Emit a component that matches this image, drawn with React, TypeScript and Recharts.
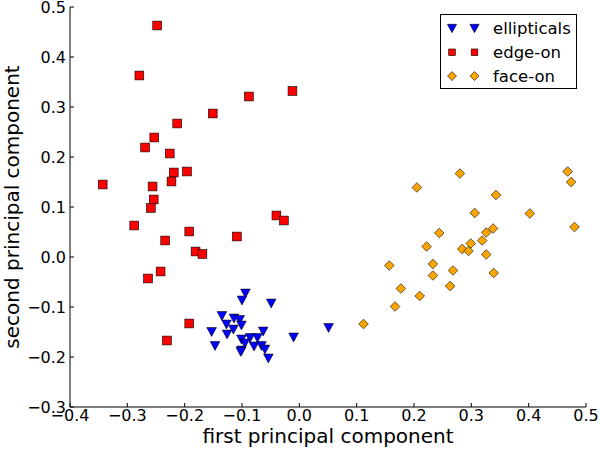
import React from "react"
import { ScatterChart, Scatter, XAxis, YAxis, Legend, Label } from "recharts"

// [first PC, second PC] pairs
const ellipticals: [number, number][] = [
  [-0.094, -0.073], [-0.1, -0.087], [-0.049, -0.093], [-0.135, -0.118], [-0.114, -0.123],
  [-0.104, -0.126], [-0.127, -0.135], [-0.101, -0.137], [-0.115, -0.145], [-0.153, -0.15],
  [-0.063, -0.149], [-0.126, -0.155], [0.051, -0.142], [-0.01, -0.161], [-0.147, -0.178],
  [-0.101, -0.165], [-0.086, -0.162], [-0.073, -0.162], [-0.095, -0.173], [-0.079, -0.179],
  [-0.066, -0.178], [-0.101, -0.187], [-0.102, -0.19], [-0.06, -0.185], [-0.054, -0.203],
]

const edgeOn: [number, number][] = [
  [-0.248, 0.463], [-0.279, 0.363], [-0.012, 0.332], [-0.088, 0.321], [-0.151, 0.287],
  [-0.213, 0.267], [-0.253, 0.239], [-0.269, 0.219], [-0.226, 0.207], [-0.219, 0.169],
  [-0.196, 0.171], [-0.223, 0.151], [-0.343, 0.145], [-0.256, 0.141], [-0.254, 0.115],
  [-0.259, 0.098], [-0.288, 0.063], [-0.192, 0.051], [-0.109, 0.041], [-0.04, 0.083],
  [-0.027, 0.073], [-0.234, 0.033], [-0.181, 0.011], [-0.169, 0.006], [-0.242, -0.029],
  [-0.264, -0.043], [-0.192, -0.133], [-0.231, -0.167],
]

const faceOn: [number, number][] = [
  [0.205, 0.139], [0.28, 0.167], [0.343, 0.124], [0.468, 0.171], [0.474, 0.15],
  [0.306, 0.088], [0.402, 0.087], [0.48, 0.06], [0.338, 0.057], [0.326, 0.049],
  [0.244, 0.048], [0.319, 0.033], [0.299, 0.027], [0.222, 0.021], [0.284, 0.016],
  [0.295, 0.012], [0.326, 0.005], [0.157, -0.017], [0.233, -0.014], [0.268, -0.027],
  [0.339, -0.032], [0.233, -0.037], [0.263, -0.058], [0.177, -0.063], [0.21, -0.078],
  [0.167, -0.099], [0.112, -0.134],
]

const seriesNames = ["ellipticals", "edge-on", "face-on"]
const xTicks = [-0.4, -0.3, -0.2, -0.1, 0.0, 0.1, 0.2, 0.3, 0.4, 0.5]
const yTicks = [-0.3, -0.2, -0.1, 0.0, 0.1, 0.2, 0.3, 0.4, 0.5]

const toPoints = (arr: [number, number][]) => arr.map(([x, y]) => ({ x, y }))
const fmt = (v: number) => (v < 0 ? "\u2212" : "") + Math.abs(v).toFixed(1)

const FONT = "DejaVu Sans"

function marker(kind: string, cx: number, cy: number, legend = false) {
  if (kind === "ellipticals") {
    const w = legend ? 4.6 : 4.8, h = legend ? 4.2 : 4.4
    return (
      <polygon
        points={`${cx - w},${cy - h} ${cx + w},${cy - h} ${cx},${cy + h}`}
        fill="#0000ff" stroke="#000" strokeWidth={0.6}
      />
    )
  }
  if (kind === "edge-on") {
    const h = legend ? 3.3 : 4.4
    return <rect x={cx - h} y={cy - h} width={2 * h} height={2 * h} fill="#ff0000" stroke="#000" strokeWidth={0.6} />
  }
  const d = legend ? 4.5 : 4.8
  return (
    <polygon
      points={`${cx},${cy - d} ${cx + d},${cy} ${cx},${cy + d} ${cx - d},${cy}`}
      fill="#ffa500" stroke="#000" strokeWidth={0.6}
    />
  )
}

const shapeFor = (kind: string) => (props: any) => marker(kind, props.cx, props.cy)

const LegendBox = (props: any) => {
  const items = [...(props.payload || [])].sort(
    (a: any, b: any) => seriesNames.indexOf(a.value) - seriesNames.indexOf(b.value)
  )
  return (
    <svg width={137} height={75}>
      <rect x={0.5} y={0.5} width={136} height={74} fill="#fff" stroke="#000" strokeWidth={1} />
      {items.map((it: any, i: number) => {
        const cy = 14.5 + i * 23.8
        return (
          <g key={it.value}>
            {marker(it.value, 12, cy, true)}
            {marker(it.value, 34.5, cy, true)}
            <text x={53} y={cy} dominantBaseline="central" fontFamily={FONT} fontSize={16.5} fill="#000">
              {it.value}
            </text>
          </g>
        )
      })}
    </svg>
  )
}

const tickStyle = { fill: "#000", fontSize: 16, fontFamily: FONT }

export default function App() {
  return (
    <div style={{ width: 600, height: 451 }}>
      <style>{`body{margin:0}`}</style>
      <ScatterChart width={600} height={451} margin={{ top: 7, right: 14, bottom: 0, left: 0 }}>
        <XAxis
          xAxisId="bottom"
          type="number"
          dataKey="x"
          domain={[-0.4, 0.5]}
          ticks={xTicks}
          interval={0}
          tickFormatter={fmt}
          height={44}
          tickSize={-4}
          tickMargin={7}
          tick={tickStyle}
          axisLine={{ stroke: "#000" }}
          tickLine={{ stroke: "#000" }}
        >
          <Label value="first principal component" position="insideBottom" offset={8}
            style={{ fontFamily: FONT, fontSize: 20, fill: "#000" }} />
        </XAxis>
        <XAxis
          xAxisId="top"
          orientation="top"
          type="number"
          dataKey="x"
          domain={[-0.4, 0.5]}
          ticks={xTicks}
          interval={0}
          height={0}
          tickSize={-4}
          tick={false}
          axisLine={{ stroke: "#000" }}
          tickLine={{ stroke: "#000" }}
        />
        <YAxis
          yAxisId="left"
          type="number"
          dataKey="y"
          domain={[-0.3, 0.5]}
          ticks={yTicks}
          interval={0}
          tickFormatter={fmt}
          width={70}
          tickSize={-4}
          tickMargin={8}
          tick={tickStyle}
          axisLine={{ stroke: "#000" }}
          tickLine={{ stroke: "#000" }}
        >
          <Label value="second principal component" angle={-90} position="center" dx={-23}
            style={{ fontFamily: FONT, fontSize: 20, fill: "#000", textAnchor: "middle" }} />
        </YAxis>
        <YAxis
          yAxisId="right"
          orientation="right"
          type="number"
          dataKey="y"
          domain={[-0.3, 0.5]}
          ticks={yTicks}
          interval={0}
          width={0}
          tickSize={-4}
          tick={false}
          axisLine={{ stroke: "#000" }}
          tickLine={{ stroke: "#000" }}
        />
        <Legend
          layout="vertical"
          align="center"
          verticalAlign="middle"
          content={LegendBox}
          wrapperStyle={{ left: 440, top: 14, width: 137, height: 75 }}
        />
        <Scatter name="ellipticals" data={toPoints(ellipticals)} xAxisId="bottom" yAxisId="left"
          shape={shapeFor("ellipticals")} isAnimationActive={false} />
        <Scatter name="edge-on" data={toPoints(edgeOn)} xAxisId="bottom" yAxisId="left"
          shape={shapeFor("edge-on")} isAnimationActive={false} />
        <Scatter name="face-on" data={toPoints(faceOn)} xAxisId="bottom" yAxisId="left"
          shape={shapeFor("face-on")} isAnimationActive={false} />
      </ScatterChart>
    </div>
  )
}
